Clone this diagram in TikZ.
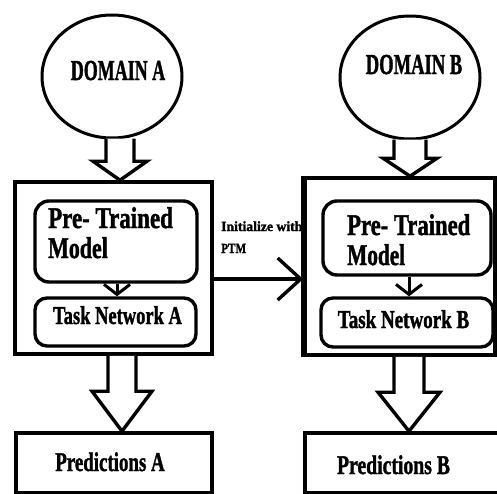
\documentclass[tikz,border=0pt]{standalone}
\usepackage{fontspec}
\setmainfont{Liberation Serif}[BoldFeatures={FakeBold=1.6}]
\usetikzlibrary{shapes.geometric,arrows.meta,calc}
\newcommand\hsq[2]{\scalebox{#1}[1]{#2}}
\tikzset{
  dom/.style={ellipse,draw,line width=3pt,fill=white,minimum width=140pt,minimum height=123pt,inner sep=0pt},
  frame/.style={rectangle,draw,line width=3.6pt,minimum width=#1,inner sep=0pt},
  rbox/.style={rectangle,draw,line width=3.4pt,rounded corners=14pt,inner sep=0pt},
  txt/.style={inner sep=0pt,font=\bfseries},
  barrow/.style={draw,line width=3.4pt,line join=miter,fill=white},
  small/.style={line width=3pt,-{Straight Barb[length=10pt,width=26pt,line width=3pt]}},
  init/.style={line width=3.4pt,-{Straight Barb[length=23pt,width=42pt,line width=3.4pt]}}
}
\begin{document}
\begin{tikzpicture}[x=1pt,y=-1pt]
\useasboundingbox[fill=white] (0,0) rectangle (497,493);
% domains
\node[dom] (domA) at (112,76.5) {};
\node[dom] (domB) at (410,77.5) {};
% frames
\node[frame=197pt,minimum height=172pt] (boxA) at (113.5,268) {};
\node[frame=190pt,minimum height=177pt] (boxB) at (400,266.5) {};
\node[frame=196pt,minimum height=60pt] (predA) at (114,463) {};
\node[frame=194pt,minimum height=60pt] (predB) at (402,463) {};
% inner rounded boxes
\node[rbox,minimum width=162pt,minimum height=81pt] (ptA) at (116,241.5) {};
\node[rbox,minimum width=161pt,minimum height=48pt,rounded corners=12pt] (taskA) at (115.5,322) {};
\node[rbox,minimum width=168pt,minimum height=74pt] (ptB) at (407,238) {};
\node[rbox,minimum width=172pt,minimum height=49pt,rounded corners=12pt] (taskB) at (407,322.5) {};
% axes for block arrows
\coordinate (axA1) at (120,0);
\coordinate (axB1) at (410,0);
\coordinate (axA2) at (122,0);
\coordinate (axB2) at (409,0);
% block arrows (top)
\path[barrow] ($(domA.south -| axA1)+(-14,-1)$) -- ($(boxA.north -| axA1)+(-14,-19)$) -- ($(boxA.north -| axA1)+(-27,-19)$)
  -- (boxA.north -| axA1) -- ($(boxA.north -| axA1)+(27,-19)$) -- ($(boxA.north -| axA1)+(14,-19)$) -- ($(domA.south -| axA1)+(14,-1)$);
\path[barrow] ($(domB.south -| axB1)+(-16,-1)$) -- ($(boxB.north -| axB1)+(-16,-18)$) -- ($(boxB.north -| axB1)+(-27,-18)$)
  -- (boxB.north -| axB1) -- ($(boxB.north -| axB1)+(27,-18)$) -- ($(boxB.north -| axB1)+(16,-18)$) -- ($(domB.south -| axB1)+(16,-1)$);
% block arrows (bottom)
\path[barrow] ($(boxA.south -| axA2)+(-14,0)$) -- ($(predA.north -| axA2)+(-14,-40)$) -- ($(predA.north -| axA2)+(-30,-40)$)
  -- (predA.north -| axA2) -- ($(predA.north -| axA2)+(30,-40)$) -- ($(predA.north -| axA2)+(14,-40)$) -- ($(boxA.south -| axA2)+(14,0)$);
\path[barrow] ($(boxB.south -| axB2)+(-15,0)$) -- ($(predB.north -| axB2)+(-15,-39)$) -- ($(predB.north -| axB2)+(-31,-39)$)
  -- (predB.north -| axB2) -- ($(predB.north -| axB2)+(31,-39)$) -- ($(predB.north -| axB2)+(15,-39)$) -- ($(boxB.south -| axB2)+(15,0)$);
% small arrows
\coordinate (sA) at (117,0);
\coordinate (sB) at (409,0);
\draw[small] (ptA.south -| sA) -- (taskA.north -| sA);
\draw[small] (ptB.south -| sB) -- (taskB.north -| sB);
% initialize arrow
\coordinate (iy) at (0,279);
\draw[init] (boxA.east |- iy) -- (boxB.west |- iy);
% texts
\node[txt,anchor=base,font=\fontsize{29}{29}\selectfont\bfseries] (tdA) at (118,80) {\hsq{0.62}{DOMAIN A}};
\node[txt,anchor=base,font=\fontsize{29}{29}\selectfont\bfseries] (tdB) at (414,74) {\hsq{0.64}{DOMAIN B}};
\node[txt,anchor=base west,font=\fontsize{30}{30}\selectfont\bfseries] (tpA1) at (48,228) {\hsq{0.765}{Pre- Trained}};
\node[txt,anchor=base west,font=\fontsize{30}{30}\selectfont\bfseries] (tpA2) at (48,258) {\hsq{0.73}{Model}};
\node[txt,anchor=base west,font=\fontsize{30}{30}\selectfont\bfseries] (tpB1) at (347,235) {\hsq{0.755}{Pre- Trained}};
\node[txt,anchor=base west,font=\fontsize{30}{30}\selectfont\bfseries] (tpB2) at (347,265) {\hsq{0.71}{Model}};
\node[txt,anchor=base,font=\fontsize{25.7}{25.7}\selectfont\bfseries] (ttA) at (117.5,324) {\hsq{0.72}{Task Network A}};
\node[txt,anchor=base,font=\fontsize{25.7}{25.7}\selectfont\bfseries] (ttB) at (403.5,328) {\hsq{0.74}{Task Network B}};
\node[txt,anchor=base,font=\fontsize{27}{27}\selectfont\bfseries] (trA) at (110,471) {\hsq{0.70}{Predictions A}};
\node[txt,anchor=base,font=\fontsize{27}{27}\selectfont\bfseries] (trB) at (393.5,474) {\hsq{0.73}{Predictions B}};
\node[txt,anchor=base west,font=\fontsize{14}{14}\selectfont\bfseries] (ti1) at (221,231) {\hsq{0.98}{Initialize with}};
\node[txt,anchor=base west,font=\fontsize{14}{14}\selectfont\bfseries] (ti2) at (221,253) {\hsq{0.8}{PTM}};
% redraw box B left edge over the label
\draw[line width=3.6pt] (boxB.north west) -- (boxB.south west);
\end{tikzpicture}
\end{document}
